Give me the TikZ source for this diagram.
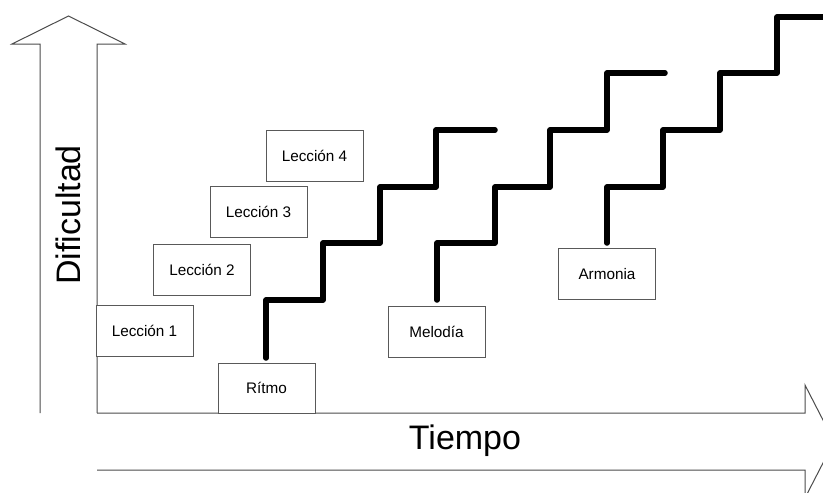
\documentclass[tikz,border=0pt]{standalone}
\usepackage{fontspec}
\setmainfont{Liberation Sans}
\begin{document}
\begin{tikzpicture}[x=1pt,y=-1pt,
  box/.style={draw=black!65,line width=1pt,fill=white,minimum width=97pt,minimum height=51pt,inner sep=0pt,font=\fontsize{15.3}{17}\selectfont},
  axis/.style={draw=black!70,line width=1pt,line join=miter},
  stair/.style={draw=black,line width=5.5pt,line cap=round,line join=round},
  big/.style={font=\fontsize{34}{38}\selectfont}]
\path[use as bounding box] (0,0) rectangle (823,493);
\clip (0,0) rectangle (823,493);
\fill[white] (0,0) rectangle (823,493);
% vertical arrow
\draw[axis] (40,413) -- (40,44) -- (12,44) -- (68.5,16) -- (125,44) -- (97,44) -- (97,413);
% horizontal arrow
\draw[axis] (97,413) -- (805,413) -- (805,385) -- (834,441.5) -- (805,498) -- (805,470) -- (97,470);
\node[big,rotate=90] (dif) at (68,215) {Dificultad};
\node[big] (tie) at (465,441) {Tiempo};
% staircases
\draw[stair] (266,358) -- (266,300) -- (323,300) -- (323,243) -- (380,243) -- (380,187) -- (436,187) -- (436,130) -- (495,130);
\draw[stair] (437,300) -- (437,243) -- (495,243) -- (495,187) -- (550,187) -- (550,130) -- (607,130) -- (607,73) -- (665,73);
\draw[stair] (607,243) -- (607,187) -- (663,187) -- (663,130) -- (720,130) -- (720,73) -- (777,73) -- (777,17) -- (830,17);
% boxes
\node[box] (l1) at (144.5,331) {Lección 1};
\node[box] (l2) at (202,270) {Lección 2};
\node[box] (l3) at (258.5,212) {Lección 3};
\node[box] (l4) at (314.5,155.5) {Lección 4};
\node[box,minimum height=50pt] (rit) at (266.5,388) {Rítmo};
\node[box] (mel) at (436.5,331.5) {Melodía};
\node[box] (arm) at (607,274) {Armonia};
\end{tikzpicture}
\end{document}
